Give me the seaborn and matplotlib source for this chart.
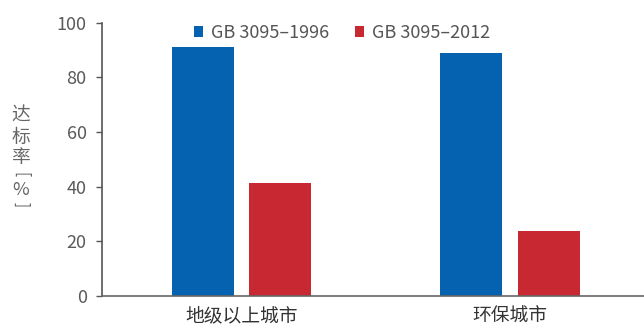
import matplotlib
matplotlib.use("Agg")
import matplotlib.pyplot as plt
import seaborn as sns
import pandas as pd

# Compliance rates of cities under the old and new ambient air quality standards
categories = ["地级以上城市", "环保城市"]
standards = ["GB 3095–1996", "GB 3095–2012"]
rate_1996 = [91.2, 88.8]
rate_2012 = [41.2, 23.9]
y_ticks = [0, 20, 40, 60, 80, 100]

df = pd.DataFrame({
    "city": categories * 2,
    "standard": [standards[0]] * 2 + [standards[1]] * 2,
    "rate": rate_1996 + rate_2012,
})

sns.set_theme(style="white")
plt.rcParams["font.family"] = ["Noto Sans CJK SC", "DejaVu Sans"]

fig = plt.figure(figsize=(6.44, 3.31), dpi=100)
ax = fig.add_axes([102 / 644, 0.1057, 1 - 102 / 644, 0.8257])

palette = {standards[0]: "#0562B0", standards[1]: "#C72832"}
sns.barplot(data=df, x="city", y="rate", hue="standard", order=categories,
            hue_order=standards, palette=palette, width=0.577, gap=0.2,
            saturation=1, linewidth=0, ax=ax, legend=True)

ax.set_xlim(-0.52, 1.5)
ax.set_ylim(0, 100)
ax.set_yticks(y_ticks)
ax.set_yticklabels([str(t) for t in y_ticks], fontsize=13, color="#5a5a5a")
ax.tick_params(axis="y", direction="out", length=4, width=1, color="#555555",
               left=True, pad=7)
ax.tick_params(axis="x", length=0, pad=7, labelsize=13.5, labelcolor="#333333")
ax.set_xlabel("")
ax.set_ylabel("")

for side in ["top", "right"]:
    ax.spines[side].set_visible(False)
ax.spines["left"].set_color("#555555")
ax.spines["left"].set_linewidth(1.2)
ax.spines["bottom"].set_color("#666666")
ax.spines["bottom"].set_linewidth(1.2)

# Vertical y-axis title: upright characters stacked top to bottom,
# with the brackets turned to lie horizontally above and below the "%"
title_color = "#666666"
title_x = 21 / 644
for ch, ypix in [("达", 115), ("标", 137), ("率", 158)]:
    fig.text(title_x, 1 - ypix / 331, ch, ha="center", va="center",
             fontsize=13.5, color=title_color)
fig.text(title_x, 1 - 175 / 331, "[", ha="center", va="center", rotation=-90,
         fontsize=11, color=title_color)
fig.text(title_x, 1 - 190 / 331, "%", ha="center", va="center",
         fontsize=13, color=title_color)
fig.text(title_x, 1 - 205 / 331, "]", ha="center", va="center", rotation=-90,
         fontsize=11, color=title_color)

ax.legend_.remove()
handles, labels = ax.get_legend_handles_labels()
fig.legend(handles, labels, loc="center", bbox_to_anchor=(342 / 644, 1 - 33 / 331),
           ncol=2, frameon=False, fontsize=13, handlelength=0.5,
           handleheight=0.5, handletextpad=0.45, columnspacing=1.4,
           labelcolor="#555555")

fig.savefig("out.png", dpi=100)
